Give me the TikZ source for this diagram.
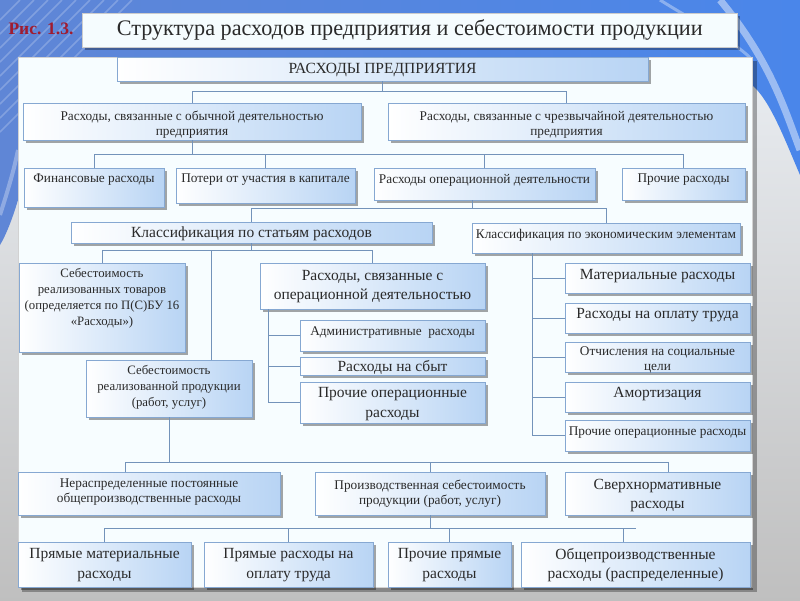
\documentclass[tikz,border=0pt]{standalone}
\usepackage{fontspec}
\setmainfont{Liberation Serif}
\usetikzlibrary{shadows,calc}
\definecolor{boxblue}{HTML}{B8D4F4}
\definecolor{boxedge}{HTML}{86A8D2}
\definecolor{lnk}{HTML}{7393BA}
\definecolor{risred}{HTML}{A01C30}
\definecolor{txt}{HTML}{2A2A2A}
\definecolor{bgA}{HTML}{5F86D6}
\definecolor{bgB}{HTML}{1C45B3}
\definecolor{bgC}{HTML}{4A86EA}
\definecolor{bgpale}{HTML}{EEF2F7}
\tikzset{
  bx/.style={draw=boxedge, line width=0.6pt, left color=white, right color=boxblue,
    inner sep=0pt, outer sep=0pt, anchor=north west,
    drop shadow={shadow xshift=3pt, shadow yshift=-3pt, fill=black, opacity=0.35}},
  tx/.style={text=txt, align=center, inner sep=0pt},
  fS/.style={font=\fontsize{13.3}{15}\selectfont},
  fT/.style={font=\fontsize{12.8}{16}\selectfont},
  fM/.style={font=\fontsize{15.5}{19.5}\selectfont},
  lk/.style={draw=lnk, line width=0.7pt},
}
\newcommand\bxt[8][fS]{%
  \node[bx, minimum width={(#5-#3)*1pt}, minimum height={(#6-#4)*1pt}] (#2) at (#3,#4) {};
  \node[tx,#1] (#2-t) at ({(#3+#5)/2},{#7+1.5}) {#8};
}
\begin{document}
\begin{tikzpicture}[x=1pt,y=-1pt]
\useasboundingbox (0,0) rectangle (800,600);
% background
\shade[top color=bgpale, bottom color=gray!50] (0,0) rectangle (800,600);
\shade[left color=bgA, middle color=bgB, right color=bgC]
  (0,0) -- (800,0) -- (800,175) .. controls (785,140) and (770,100) .. (752,85)
  -- (752,57) -- (18,57) -- (18,200) .. controls (12,220) and (6,235) .. (0,245) -- cycle;
\foreach \k in {0,14,...,120} {\draw[white,opacity=.22,line width=1.5pt] (0,\k+20) -- (\k+20,0);}
\draw[white,opacity=.45,line width=7pt] (800,150) .. controls (785,110) and (770,60) .. (720,0);
\draw[white,opacity=.35,line width=3pt] (660,0) .. controls (700,25) and (740,45) .. (752,60);
\draw[white,opacity=.3,line width=4pt] (0,215) .. controls (8,190) and (14,170) .. (18,150);
% title
\node[font=\bfseries\fontsize{17.5}{20}\selectfont, text=risred] (ris) at (41,29) {Рис. 1.3.};
\node[draw=gray!40, fill=white!96!cyan, anchor=north west, minimum width=655pt, minimum height=34pt,
  inner sep=0pt, drop shadow={shadow xshift=3pt, shadow yshift=-3pt, fill=black, opacity=0.3},
  font=\fontsize{22.2}{24}\selectfont, text=txt] (title) at (82,13) {Структура расходов предприятия и себестоимости продукции};
% panel
\fill[black,opacity=.3] (22,61) rectangle (757,592);
\filldraw[fill=white!97!cyan, draw=gray!35] (18,57) rectangle (752,587);
% boxes
\bxt[fM]{top}{117}{57}{648}{81}{69}{РАСХОДЫ ПРЕДПРИЯТИЯ}
\bxt{ord}{23}{103}{361}{140}{123}{Расходы, связанные с обычной деятельностью\\предприятия}
\bxt{ext}{388}{103}{745}{140}{123}{Расходы, связанные с чрезвычайной деятельностью\\предприятия}
\bxt{fin}{24}{168}{164}{207}{178.5}{Финансовые расходы}
\bxt{pot}{176}{168}{355}{203}{178.5}{Потери от участия в капитале}
\bxt{oper}{374}{168}{595}{200}{178.5}{Расходы операционной деятельности}
\bxt{proch}{622}{168}{745}{200}{178.5}{Прочие расходы}
\bxt[fM]{kst}{71}{222}{432}{243}{232.5}{Классификация по статьям расходов}
\bxt{kek}{472}{223}{740}{253}{234}{Классификация по экономическим элементам}
\bxt[fT]{sebt}{19}{263}{185}{352}{297}{Себестоимость\\реализованных товаров\\(определяется по П(С)БУ 16\\«Расходы»)}
\bxt[fM]{roper}{260}{263}{485}{309}{285}{Расходы, связанные с\\операционной деятельностью}
\bxt{adm}{300}{320}{485}{351}{331}{Административные\ \ расходы}
\bxt[fM]{sbyt}{300}{357}{485}{375}{366}{Расходы на сбыт}
\bxt[fM]{prop}{300}{382}{485}{423}{402.5}{Прочие операционные\\расходы}
\bxt[fT]{sebp}{86}{360}{252}{417}{386}{Себестоимость\\реализованной продукции\\(работ, услуг)}
\bxt[fM]{mat}{565}{263}{750}{293}{275}{Материальные расходы}
\bxt[fM]{opl}{565}{303}{750}{333}{314}{Расходы на оплату труда}
\bxt{otch}{565}{342}{750}{372}{358}{Отчисления на социальные\\цели}
\bxt[fM]{amort}{565}{382}{750}{412}{393}{Амортизация}
\bxt{poe}{565}{420}{750}{451}{431}{Прочие операционные расходы}
\bxt{nerasp}{18}{472}{280}{515}{491}{Нераспределенные постоянные\\общепроизводственные расходы}
\bxt{proizv}{315}{472}{545}{515}{492}{Производственная себестоимость\\продукции (работ, услуг)}
\bxt[fM]{sverh}{565}{472}{750}{515}{494}{Сверхнормативные\\расходы}
\bxt[fM]{pm}{18}{542}{191}{587}{563.5}{Прямые материальные\\расходы}
\bxt[fM]{pr}{204}{542}{373}{587}{563.5}{Прямые расходы на\\оплату труда}
\bxt[fM]{pp}{388}{542}{511}{587}{563.5}{Прочие прямые\\расходы}
\bxt[fM]{op}{521}{542}{750}{587}{563.5}{Общепроизводственные\\расходы (распределенные)}
% connectors
\draw[lk] (top.south) -- ++(0,10) coordinate (j1);
\draw[lk] (ord.north) |- (ext.north |- j1) -- (ext.north);
\draw[lk] (ord.south) -- ++(0,14) coordinate (j2);
\draw[lk] (fin.north) |- (proch.north |- j2) -- (proch.north);
\draw[lk] (pot.north) -- (pot.north |- j2);
\draw[lk] (oper.north) -- (oper.north |- j2);
\coordinate (ob) at ($(oper.south west)+(98,0)$);
\draw[lk] (ob) -- ++(0,8) coordinate (j3);
\draw[lk] (kst.north) |- (kek.north |- j3) -- (kek.north);
\draw[lk] (kst.south) -- ++(0,7) coordinate (j4);
\draw[lk] (sebt.north) |- (roper.north |- j4) -- (roper.north);
\coordinate (sebpin) at ($(sebp.north west)+(125,0)$);
\draw[lk] (sebpin) -- (sebpin |- j4);
\coordinate (v1) at ($(roper.south west)+(8,0)$);
\draw[lk] (v1) |- (prop.west);
\draw[lk] (adm.west) -- (adm.west -| v1);
\draw[lk] (sbyt.west) -- (sbyt.west -| v1);
\coordinate (v2) at ($(kek.south west)+(60,0)$);
\draw[lk] (v2) |- (poe.west);
\foreach \n in {mat,opl,otch,amort} {\draw[lk] (\n.west) -- (\n.west -| v2);}
\draw[lk] (sebp.south) -- ++(0,45) coordinate (j5);
\coordinate (nin) at ($(nerasp.north west)+(107,0)$);
\coordinate (sin) at ($(sverh.north west)+(103,0)$);
\draw[lk] (nin) |- (sin |- j5) -- (sin);
\draw[lk] (proizv.north) -- (proizv.north |- j5);
\draw[lk] (proizv.south) -- ++(0,13) coordinate (j6);
\coordinate (opin) at ($(op.north west)+(102,0)$);
\draw[lk] (pm.north) |- (op.north |- j6);
\draw[lk] (pr.north) -- (pr.north |- j6);
\draw[lk] (pp.north) -- (pp.north |- j6);
\draw[lk] (opin) -- (opin |- j6);
\end{tikzpicture}
\end{document}
